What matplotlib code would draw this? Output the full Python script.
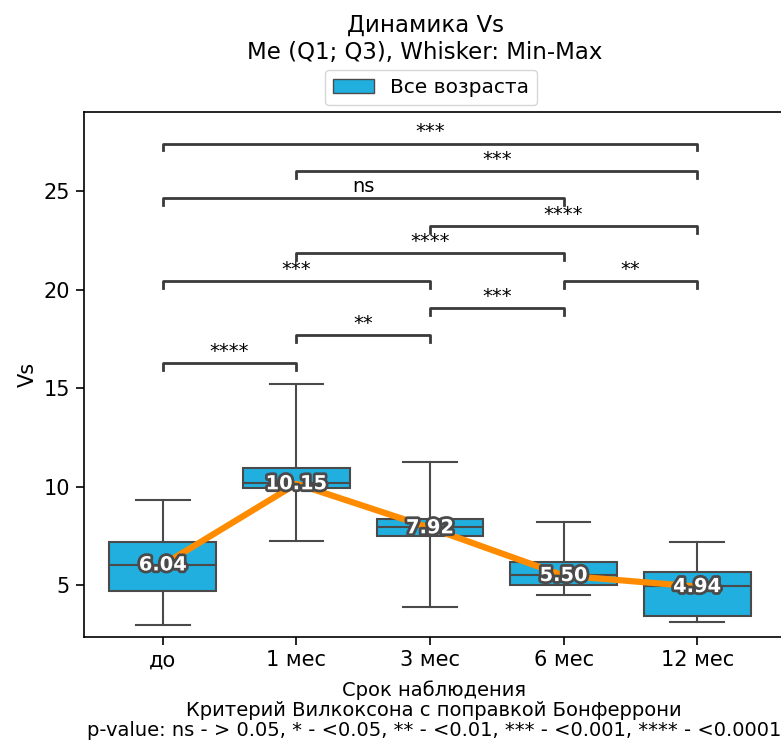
import matplotlib
matplotlib.use('Agg')
import matplotlib.pyplot as plt
import matplotlib.patheffects as pe
from matplotlib.patches import Patch

groups = ['до', '1 мес', '3 мес', '6 мес', '12 мес']
q1 = [4.72, 9.94, 7.52, 5.02, 3.46]
med = [6.04, 10.18, 7.98, 5.51, 4.95]
q3 = [7.20, 10.94, 8.35, 6.20, 5.70]
vmin = [2.99, 7.24, 3.92, 4.51, 3.16]
vmax = [9.33, 15.23, 11.27, 8.21, 7.20]
med_labels = [6.04, 10.15, 7.92, 5.50, 4.94]

# pairwise comparisons (Wilcoxon, Bonferroni), in drawing order
pairs = [(0, 1), (1, 2), (2, 3), (0, 2), (3, 4), (1, 3), (2, 4), (0, 3), (1, 4), (0, 4)]
stars = ['****', '**', '***', '***', '**', '****', '****', 'ns', '***', '***']

box_color = '#20AFDF'
edge = '#4a4a4a'

plt.rcParams['font.size'] = 15
plt.rcParams['axes.linewidth'] = 1.2
fig = plt.figure(figsize=(7.81, 7.45), dpi=100)
ax = fig.add_axes([84 / 781, 108.5 / 745, 700 / 781, 524.5 / 745])

stats = []
for i in range(len(groups)):
    stats.append({'med': med[i], 'q1': q1[i], 'q3': q3[i],
                  'whislo': vmin[i], 'whishi': vmax[i], 'fliers': []})
ax.bxp(stats, positions=range(len(groups)), widths=0.8, capwidths=0.4,
       patch_artist=True, showfliers=False,
       boxprops=dict(facecolor=box_color, edgecolor=edge, linewidth=1.5),
       medianprops=dict(color=edge, linewidth=1.5),
       whiskerprops=dict(color=edge, linewidth=1.5),
       capprops=dict(color=edge, linewidth=1.5))

ax.plot(range(len(groups)), med_labels, color='darkorange', lw=4.5, zorder=5)
for i, v in enumerate(med_labels):
    ax.text(i, v, f'{v:.2f}', ha='center', va='center', color='white',
            fontsize=14, fontweight='bold', zorder=6,
            path_effects=[pe.withStroke(linewidth=4, foreground=edge)])

# stack the significance brackets
base = max(vmax) + 1.05
step = 1.39
tick = 0.35
placed = []
for (a, b), s in zip(pairs, stars):
    lvl = 0
    for (pa, pb, pl) in placed:
        if pa <= b and a <= pb:
            lvl = max(lvl, pl + 1)
    placed.append((a, b, lvl))
    y = base + lvl * step
    ax.plot([a, a, b, b], [y - tick, y, y, y - tick], color='#3a3a3a', lw=2, zorder=4)
    ax.annotate(s, xy=((a + b) / 2, y), xytext=(0, 1.5), textcoords='offset points',
                ha='center', va='bottom', fontsize=14)

ax.set_xlim(-0.59, 4.65)
ax.set_ylim(2.41, 29.0)
ax.set_xticks(range(len(groups)))
ax.set_xticklabels(groups)
ax.set_yticks([5, 10, 15, 20, 25])
ax.tick_params(length=5.5, width=1.2, pad=4.5)
ax.spines['right'].set_visible(False)
ax.set_ylabel('Vs', fontsize=15)
ax.set_xlabel('Срок наблюдения\nКритерий Вилкоксона с поправкой Бонферрони\n'
              'p-value: ns - > 0.05, * - <0.05, ** - <0.01, *** - <0.001, **** - <0.0001',
              fontsize=14, linespacing=1.08, labelpad=7)

fig.text(425 / 781, 1 - 14 / 745, 'Динамика Vs\nMe (Q1; Q3), Whisker: Min-Max',
         ha='center', va='top', fontsize=16.5)
fig.legend(handles=[Patch(facecolor=box_color, edgecolor=edge, label='Все возраста')],
           loc='lower center', bbox_to_anchor=(431 / 781, 1 - 105 / 745),
           borderaxespad=0, fontsize=14.5)

fig.savefig('out.png', dpi=100)
